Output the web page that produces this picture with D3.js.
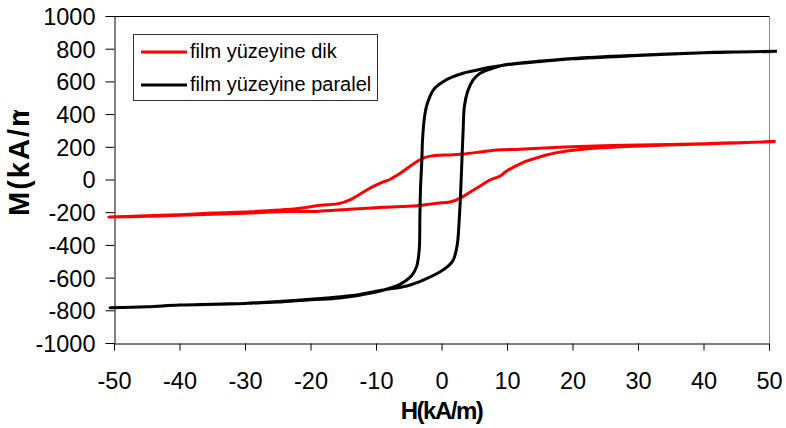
<!DOCTYPE html>
<html>
<head>
<meta charset="utf-8">
<script src="https://cdn.jsdelivr.net/npm/d3@7"></script>
<style>
  body { margin: 0; background: #fff; }
  svg { display: block; font-family: Arial, "Liberation Sans", sans-serif; }
</style>
</head>
<body>
<svg width="786" height="428"></svg>
<script>
// series names
var seriesNames = ['film yüzeyine dik', 'film yüzeyine paralel'];
var seriesColors = ['#ff0000', '#000000'];

// axis ticks
var xTicks = [-50, -40, -30, -20, -10, 0, 10, 20, 30, 40, 50];
var yTicks = [-1000, -800, -600, -400, -200, 0, 200, 400, 600, 800, 1000];

// film yüzeyine dik (red): down branch from +H, then up branch from -H
var dikH = [51, 45, 40, 30, 24.7, 18, 12, 8.4, 5.9, 3.3, 1.3, -1, -2.5, -3.8, -5, -6.3, -7.9, -8.9, -10, -11.4, -14, -15.5, -18.5, -21.6, -24.7, -29.2, -35, -40, -45, -50.8,
            -45, -40, -30, -25, -19, -14, -8.9, -3.8, -0.7, 1.3, 2.8, 4.9, 5.9, 7.4, 8.9, 9.9, 12.5, 13.5, 16, 19.1, 22.7, 30.3, 40, 45, 51];
var dikM = [232, 225, 219, 211, 207, 197, 185, 180, 168, 156, 150, 147, 135, 109, 75, 38, 0, -15, -35, -64, -125, -146, -158, -176, -187, -197, -205, -215, -222, -229,
            -225, -218, -207, -197, -195, -182, -170, -160, -145, -138, -115, -64, -40, -3, 20, 50, 105, 119, 150, 174, 190, 205, 217, 224, 232];

// film yüzeyine paralel (black)
var parH = [51.2, 45, 40, 30, 20, 14.5, 10, 7, 5, 3.3, 1.5, 0.3, -1.2, -2.2, -2.6, -2.9, -3.0, -3.2, -3.3, -3.4, -3.8, -4.5, -5.3, -6.5, -7.9, -10, -15.5, -20, -25, -30, -35, -40, -45, -50.6,
            -45, -40, -30, -20, -15, -12.9, -8.9, -5.3, -2.8, -0.2, 1.0, 1.8, 2.4, 2.7, 2.9, 3.1, 3.3, 3.5, 4.0, 4.8, 5.9, 7.9, 9.5, 12, 14.5, 20, 30, 40, 45, 51.2];
var parM = [783, 780, 775, 758, 738, 720, 702, 683, 665, 650, 625, 600, 550, 460, 380, 240, 120, -50, -227, -430, -533, -585, -615, -645, -665, -688, -725, -735, -750, -758, -763, -768, -778, -784,
            -778, -768, -758, -732, -715, -706, -676, -651, -615, -564, -530, -492, -400, -250, -100, 100, 300, 450, 540, 608, 650, 682, 700, 712, 722, 740, 760, 776, 780, 784];

var plotL = 114, plotR = 769, plotT = 16, plotB = 343;

var svg = d3.select('svg');

var ScaleX = d3.scaleLinear().domain([-50, 50]).range([plotL, plotR]);
var ScaleY = d3.scaleLinear().domain([-1000, 1000]).range([plotB, plotT]);

// frame: top black, right gray
svg.append('line')
    .attr('x1', plotL).attr('x2', plotR)
    .attr('y1', plotT + 0.5).attr('y2', plotT + 0.5)
    .attr('stroke', '#000');
svg.append('line')
    .attr('x1', plotR + 0.5).attr('x2', plotR + 0.5)
    .attr('y1', plotT).attr('y2', plotB)
    .attr('stroke', '#888');

// axes
var plain = function(d){ return String(d); };
var xAxis = svg.append('g')
    .attr('transform', 'translate(0,' + (plotB + 0.5) + ')')
    .call(d3.axisBottom(ScaleX).tickValues(xTicks).tickFormat(plain).tickSize(7).tickSizeOuter(0));
xAxis.selectAll('text')
    .attr('y', 45).attr('dy', 0)
    .attr('font-size', 23.5)
    .attr('font-family', 'Arial, "Liberation Sans", sans-serif')
    .attr('fill', '#000');

var yAxis = svg.append('g')
    .attr('transform', 'translate(' + (plotL + 0.5) + ',0)')
    .call(d3.axisLeft(ScaleY).tickValues(yTicks).tickFormat(plain).tickSize(9).tickSizeOuter(0));
yAxis.selectAll('text')
    .attr('x', -19).attr('dy', '0.36em')
    .attr('font-size', 23.5)
    .attr('font-family', 'Arial, "Liberation Sans", sans-serif')
    .attr('fill', '#000');
svg.selectAll('.domain, .tick line').attr('stroke', '#000');

var line = d3.line()
    .x(function(d){ return ScaleX(d[0]); })
    .y(function(d){ return ScaleY(d[1]); })
    .curve(d3.curveCatmullRom.alpha(0.5));

var series = [
    { name: seriesNames[0], color: seriesColors[0], pts: d3.zip(dikH, dikM) },
    { name: seriesNames[1], color: seriesColors[1], pts: d3.zip(parH, parM) }
];

svg.selectAll('path.series')
    .data(series)
    .enter()
    .append('path')
    .attr('class', 'series')
    .attr('d', function(d){ return line(d.pts); })
    .attr('fill', 'none')
    .attr('stroke', function(d){ return d.color; })
    .attr('stroke-width', 3)
    .attr('stroke-linejoin', 'round');

// legend
var legend = svg.append('g');
legend.append('rect')
    .attr('x', 133.5).attr('y', 34.5)
    .attr('width', 244).attr('height', 66)
    .attr('fill', '#fff')
    .attr('stroke', '#333');
var rows = legend.selectAll('g.row')
    .data(series)
    .enter()
    .append('g')
    .attr('transform', function(d, i){ return 'translate(0,' + (52 + i * 33) + ')'; });
rows.append('line')
    .attr('x1', 141).attr('x2', 187)
    .attr('stroke', function(d){ return d.color; })
    .attr('stroke-width', 3);
rows.append('text')
    .attr('x', 190).attr('y', 6)
    .attr('font-size', 20)
    .text(function(d){ return d.name; });

// axis titles
svg.append('text')
    .attr('x', (plotL + plotR) / 2)
    .attr('y', 419)
    .attr('text-anchor', 'middle')
    .attr('font-size', 24)
    .attr('font-weight', 'bold')
    .attr('letter-spacing', -1.5)
    .text('H(kA/m)');

// y title is cut off at the top in the original
svg.append('clipPath').attr('id', 'ytclip')
    .append('rect').attr('x', 0).attr('y', 110).attr('width', 60).attr('height', 140);
svg.append('g')
    .attr('clip-path', 'url(#ytclip)')
    .append('text')
    .attr('transform', 'translate(29,216) rotate(-90)')
    .attr('font-size', 29)
    .attr('font-weight', 'bold')
    .attr('letter-spacing', 2)
    .text('M(kA/m)');
</script>
</body>
</html>
